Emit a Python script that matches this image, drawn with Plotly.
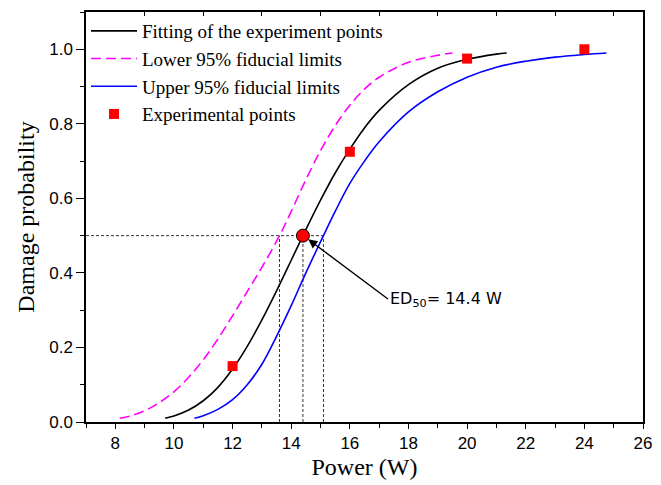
import plotly.graph_objects as go

# ---- data ----
fit_x = [9.7, 10, 10.5, 11, 11.5, 12, 12.5, 13, 13.5, 14, 14.4, 15, 15.5, 16, 16.5, 17, 18, 19, 20, 21, 21.35]
fit_y = [0.010, 0.016, 0.032, 0.057, 0.093, 0.142, 0.203, 0.274, 0.352, 0.434, 0.500, 0.595, 0.668, 0.732, 0.789, 0.836, 0.905, 0.949, 0.973, 0.987, 0.990]

lower_x = [8.15, 8.5, 9, 9.5, 10, 10.5, 11, 11.5, 12, 12.5, 13, 13.6, 14, 14.5, 15, 15.5, 16, 16.5, 17, 18, 19, 19.5]
lower_y = [0.010, 0.016, 0.030, 0.052, 0.081, 0.120, 0.167, 0.223, 0.285, 0.350, 0.415, 0.500, 0.565, 0.650, 0.728, 0.795, 0.850, 0.893, 0.925, 0.965, 0.984, 0.990]

upper_x = [10.7, 11, 11.5, 12, 12.5, 13, 13.5, 14, 14.5, 15.1, 15.5, 16, 16.5, 17, 18, 19, 20, 21, 22, 23, 24, 24.75]
upper_y = [0.010, 0.017, 0.034, 0.060, 0.100, 0.155, 0.230, 0.312, 0.400, 0.500, 0.565, 0.640, 0.700, 0.752, 0.832, 0.886, 0.925, 0.952, 0.968, 0.979, 0.986, 0.990]

exp_x = [12, 16, 20, 24]
exp_y = [0.15, 0.725, 0.975, 1.0]

ed50_x = [14.4]
ed50_y = [0.5]
guide_x = [13.6, 14.4, 15.1]      # lower limit, ED50, upper limit at p = 0.5
x_range = [7, 26]
y_range = [0, 1.1]
x_major = [8, 10, 12, 14, 16, 18, 20, 22, 24, 26]
x_top_ticks = [9, 11, 13, 15, 17, 19, 21, 23, 25]
y_major = [0.0, 0.2, 0.4, 0.6, 0.8, 1.0]

names = ["Fitting of the experiment points", "Lower 95% fiducial limits",
         "Upper 95% fiducial limits", "Experimental points"]

fig = go.Figure()

# dashed guide lines
p50 = ed50_y[0]
fig.add_trace(go.Scatter(x=[x_range[0], max(guide_x)], y=[p50, p50], mode="lines",
                         line=dict(color="#333333", width=1, dash="3px,2px"),
                         showlegend=False, hoverinfo="skip"))
vx, vy = [], []
for g in guide_x:
    vx += [g, g, None]
    vy += [y_range[0], p50, None]
fig.add_trace(go.Scatter(x=vx, y=vy, mode="lines",
                         line=dict(color="#333333", width=1, dash="3px,2px"),
                         showlegend=False, hoverinfo="skip"))

fig.add_trace(go.Scatter(x=fit_x, y=fit_y, mode="lines", name=names[0],
                         line=dict(color="black", width=1.6, shape="spline")))
fig.add_trace(go.Scatter(x=lower_x, y=lower_y, mode="lines", name=names[1],
                         line=dict(color="#FF00FF", width=1.6, dash="10px,5px", shape="spline")))
fig.add_trace(go.Scatter(x=upper_x, y=upper_y, mode="lines", name=names[2],
                         line=dict(color="#0000FF", width=1.6, shape="spline")))
fig.add_trace(go.Scatter(x=exp_x, y=exp_y, mode="markers", name=names[3],
                         marker=dict(symbol="square", size=10, color="#FF0000", line=dict(width=0))))
fig.add_trace(go.Scatter(x=ed50_x, y=ed50_y, mode="markers", showlegend=False,
                         marker=dict(symbol="circle", size=13, color="#FF0000",
                                     line=dict(color="black", width=1))))
# dummy trace for the top axis
fig.add_trace(go.Scatter(x=[x_range[0]], y=[y_range[0]], xaxis="x2", mode="markers",
                         marker=dict(opacity=0), showlegend=False, hoverinfo="skip"))

fig.add_annotation(x=ed50_x[0] + 0.18, y=ed50_y[0] - 0.01, ax=17.3, ay=0.33,
                   xref="x", yref="y", axref="x", ayref="y",
                   text="ED<sub>50</sub>= 14.4 W", showarrow=True,
                   arrowhead=2, arrowsize=1.3, arrowwidth=1.4, arrowcolor="black",
                   xanchor="left", yanchor="middle",
                   font=dict(family="DejaVu Sans", size=16, color="black"))

axis_font = dict(family="Liberation Sans, Arial", size=17, color="black")
title_font = dict(family="Liberation Serif, Times New Roman", size=24, color="black")

# the page body has an 8px margin, so the figure is 8px smaller than the window
fig.update_layout(
    width=653, height=477,
    margin=dict(l=78, r=18, t=2, b=63),
    plot_bgcolor="white", paper_bgcolor="white",
    xaxis=dict(range=x_range, tickvals=x_major, ticks="outside", ticklen=5, tickwidth=1.3,
               tickcolor="black", showline=True, linecolor="black", linewidth=1.5,
               mirror=True, showgrid=False, zeroline=False, tickfont=axis_font,
               minor=dict(dtick=1, tick0=7, ticks="outside", ticklen=4, tickwidth=1.3, tickcolor="black"),
               title=dict(text="Power (W)", font=title_font, standoff=6)),
    xaxis2=dict(range=x_range, overlaying="x", side="top", anchor="y", tickvals=x_top_ticks,
                ticks="inside", ticklen=4, tickwidth=1.3, tickcolor="black",
                showticklabels=False, showline=False, showgrid=False, zeroline=False),
    yaxis=dict(range=y_range, tickvals=y_major, tickformat=".1f", ticks="outside", ticklen=8,
               tickwidth=1.3, tickcolor="black", showline=True, linecolor="black", linewidth=1.5,
               mirror=True, showgrid=False, zeroline=False, tickfont=axis_font,
               minor=dict(dtick=0.2, tick0=0.1, ticks="outside", ticklen=4, tickwidth=1.3, tickcolor="black"),
               title=dict(text="Damage probability", font=title_font, standoff=8)),
    legend=dict(x=0.0, y=1.0, xanchor="left", yanchor="top", bgcolor="rgba(0,0,0,0)",
                font=dict(family="Liberation Serif, Times New Roman", size=19, color="black"),
                itemwidth=46, tracegroupgap=0),
    showlegend=True,
)

fig.write_html("out.html")
